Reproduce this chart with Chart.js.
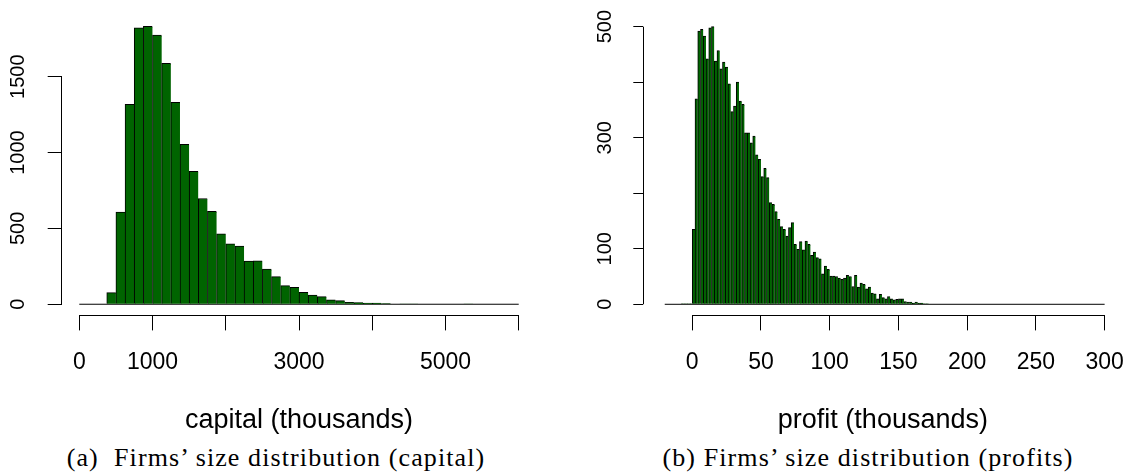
<!DOCTYPE html>
<html>
<head>
<meta charset="utf-8">
<title>Firms' size distribution</title>
<script src="https://cdn.jsdelivr.net/npm/chart.js@4.4.1/dist/chart.umd.min.js"></script>
<style>
  body { margin: 0; width: 1131px; height: 475px; overflow: hidden; background: #fff; position: relative; }
  canvas { position: absolute; top: 0; }
  #capital { left: 0; }
  #profit { left: 565px; }
  .cap {
    position: absolute; top: 443px; line-height: 29px;
    font-family: "Liberation Serif", serif; font-size: 26px; letter-spacing: 1.1px;
    white-space: pre; color: #000; transform: translateX(-50%);
  }
</style>
</head>
<body>
<canvas id="capital" width="565" height="440"></canvas>
<canvas id="profit" width="566" height="440"></canvas>
<div class="cap" style="left:276px">(a)  Firms’ size distribution (capital)</div>
<div class="cap" style="left:868px">(b) Firms’ size distribution (profits)</div>

<script>
// histogram (a): capital, bins of 125 starting at 0
const capitalStart = 0;
const capitalBinWidth = 125;
const capitalCounts = [
  0, 0, 0, 77, 607, 1318, 1822, 1833, 1774, 1588,
  1331, 1055, 877, 697, 612, 465, 399, 384, 285, 287,
  232, 182, 123, 112, 79, 61, 50, 29, 24, 13,
  11, 7, 7, 4, 0, 2, 2, 0, 0, 0,
  0, 0, 2, 0, 0, 0, 0, 0
];
const capitalTicks = [0, 1000, 2000, 3000, 4000, 5000, 6000];
const capitalTickLabels = [0, 1000, 3000, 5000];
const capitalCountTicks = [0, 500, 1000, 1500];

// histogram (b): profit, bins of 2 starting at -20
const profitStart = -20;
const profitBinWidth = 2;
const profitCounts = [
  0, 0, 0, 0, 0, 0, 1, 1, 1, 1,
  135, 370, 492, 495, 483, 442, 498, 500, 438, 457,
  424, 436, 427, 397, 347, 357, 400, 366, 360, 309,
  309, 291, 303, 269, 261, 230, 245, 228, 183, 180,
  167, 153, 140, 135, 123, 138, 147, 108, 99, 113,
  98, 114, 108, 88, 94, 84, 82, 55, 69, 63,
  51, 51, 50, 47, 45, 47, 52, 50, 32, 52,
  31, 38, 36, 28, 31, 20, 19, 10, 18, 12,
  10, 14, 10, 8, 9, 10, 10, 5, 4, 4,
  2, 4, 2, 2, 1, 1, 0, 0, 0, 0,
  0, 0, 0, 0, 0, 0, 0, 0, 0, 0,
  0, 0, 0, 0, 0, 0, 0, 0, 0, 0,
  0, 0, 0, 0, 0, 0, 0, 0, 0, 0,
  0, 0, 0, 0, 0, 0, 0, 0, 0, 0,
  0, 0, 0, 0, 0, 0, 0, 0, 0, 0,
  0, 0, 0, 0, 0, 0, 0, 0, 0, 0
];
const profitTicks = [0, 50, 100, 150, 200, 250, 300];
const profitTickLabels = [0, 50, 100, 150, 200, 250, 300];
const profitCountTicks = [0, 100, 200, 300, 400, 500];
const profitCountLabels = [0, 100, 300, 500];

const sans = "'Liberation Sans', Arial, Helvetica, sans-serif";

// R-style axes: the line only runs from the first to the last tick
const rAxes = {
  id: 'rAxes',
  afterDraw(chart) {
    const ctx = chart.ctx;
    const x = chart.scales.x, y = chart.scales.y;
    ctx.save();
    ctx.strokeStyle = '#000';
    ctx.lineWidth = 1;
    ctx.beginPath();
    const xy = Math.floor(x.top) + 0.5;
    ctx.moveTo(x.getPixelForValue(x.ticks[0].value), xy);
    ctx.lineTo(x.getPixelForValue(x.ticks[x.ticks.length - 1].value), xy);
    const yx = Math.floor(y.right) + 0.5;
    ctx.moveTo(yx, y.getPixelForValue(y.ticks[0].value));
    ctx.lineTo(yx, y.getPixelForValue(y.ticks[y.ticks.length - 1].value));
    ctx.stroke();
    ctx.restore();
  }
};

function histogram(id, o) {
  const bars = o.counts.map((c, i) => ({ x: o.start + o.width * (i + 0.5), y: c }));
  const end = o.start + o.width * o.counts.length;
  return new Chart(document.getElementById(id), {
    type: 'bar',
    data: {
      datasets: [
        {
          type: 'line',
          data: [{ x: o.start, y: 0 }, { x: end, y: 0 }],
          borderColor: '#000',
          borderWidth: 1,
          pointRadius: 0,
          order: 2
        },
        {
          type: 'bar',
          data: bars,
          backgroundColor: '#006400',
          borderColor: '#000',
          borderWidth: { top: 1, left: 1, right: 0, bottom: 0 },
          barPercentage: 1,
          categoryPercentage: 1,
          order: 1
        }
      ]
    },
    options: {
      responsive: false,
      animation: false,
      devicePixelRatio: 1,
      events: [],
      layout: { padding: { top: o.padTop, right: o.padRight, left: 0, bottom: 0 } },
      plugins: { legend: { display: false }, tooltip: { enabled: false } },
      scales: {
        x: {
          type: 'linear',
          offset: false,
          min: o.xMin,
          max: o.xMax,
          afterBuildTicks: s => { s.ticks = o.xTicks.map(v => ({ value: v })); },
          afterFit: s => { s.height = 124.6; s.paddingLeft = 0; s.paddingRight = 0; },
          grid: { display: true, offset: false, drawOnChartArea: false, drawTicks: true, tickLength: 15, color: '#000', lineWidth: 1 },
          border: { display: false },
          ticks: {
            autoSkip: false, minRotation: 0, maxRotation: 0, padding: 18.8, color: '#000',
            font: { family: sans, size: 23 },
            callback: v => o.xLabels.includes(v) ? String(v) : ''
          },
          title: {
            display: true, text: o.xTitle, color: '#000',
            font: { family: sans, size: 27 }, padding: { top: 0, bottom: 3 }
          }
        },
        y: {
          min: o.yMin,
          max: o.yMax,
          afterBuildTicks: s => { s.ticks = o.yTicks.map(v => ({ value: v })); },
          afterFit: s => { s.width = o.yWidth; s.paddingTop = 0; s.paddingBottom = 0; },
          grid: { display: true, drawOnChartArea: false, drawTicks: true, tickLength: o.yTickLen, color: '#000', lineWidth: 1 },
          border: { display: false },
          ticks: {
            autoSkip: false, minRotation: 90, maxRotation: 90, crossAlign: 'center',
            padding: o.yPad, color: '#000',
            font: { family: sans, size: 20 },
            callback: v => o.yLabels.includes(v) ? String(v) : ''
          }
        }
      }
    },
    plugins: [rAxes]
  });
}

histogram('capital', {
  counts: capitalCounts, start: capitalStart, width: capitalBinWidth,
  xMin: -240, xMax: 6240, xTicks: capitalTicks, xLabels: capitalTickLabels,
  xTitle: 'capital (thousands)',
  yMin: -73.6, yMax: 1913.6, yTicks: capitalCountTicks, yLabels: capitalCountTicks,
  yWidth: 61.7, yTickLen: 14, yPad: 7.3,
  padTop: 14, padRight: 28.7
});

histogram('profit', {
  counts: profitCounts, start: profitStart, width: profitBinWidth,
  xMin: -35.6, xMax: 313, xTicks: profitTicks, xLabels: profitTickLabels,
  xTitle: 'profit (thousands)',
  yMin: -20, yMax: 521, yTicks: profitCountTicks, yLabels: profitCountLabels,
  yWidth: 78.3, yTickLen: 10, yPad: 11,
  padTop: 15, padRight: 8.5
});
</script>
</body>
</html>
